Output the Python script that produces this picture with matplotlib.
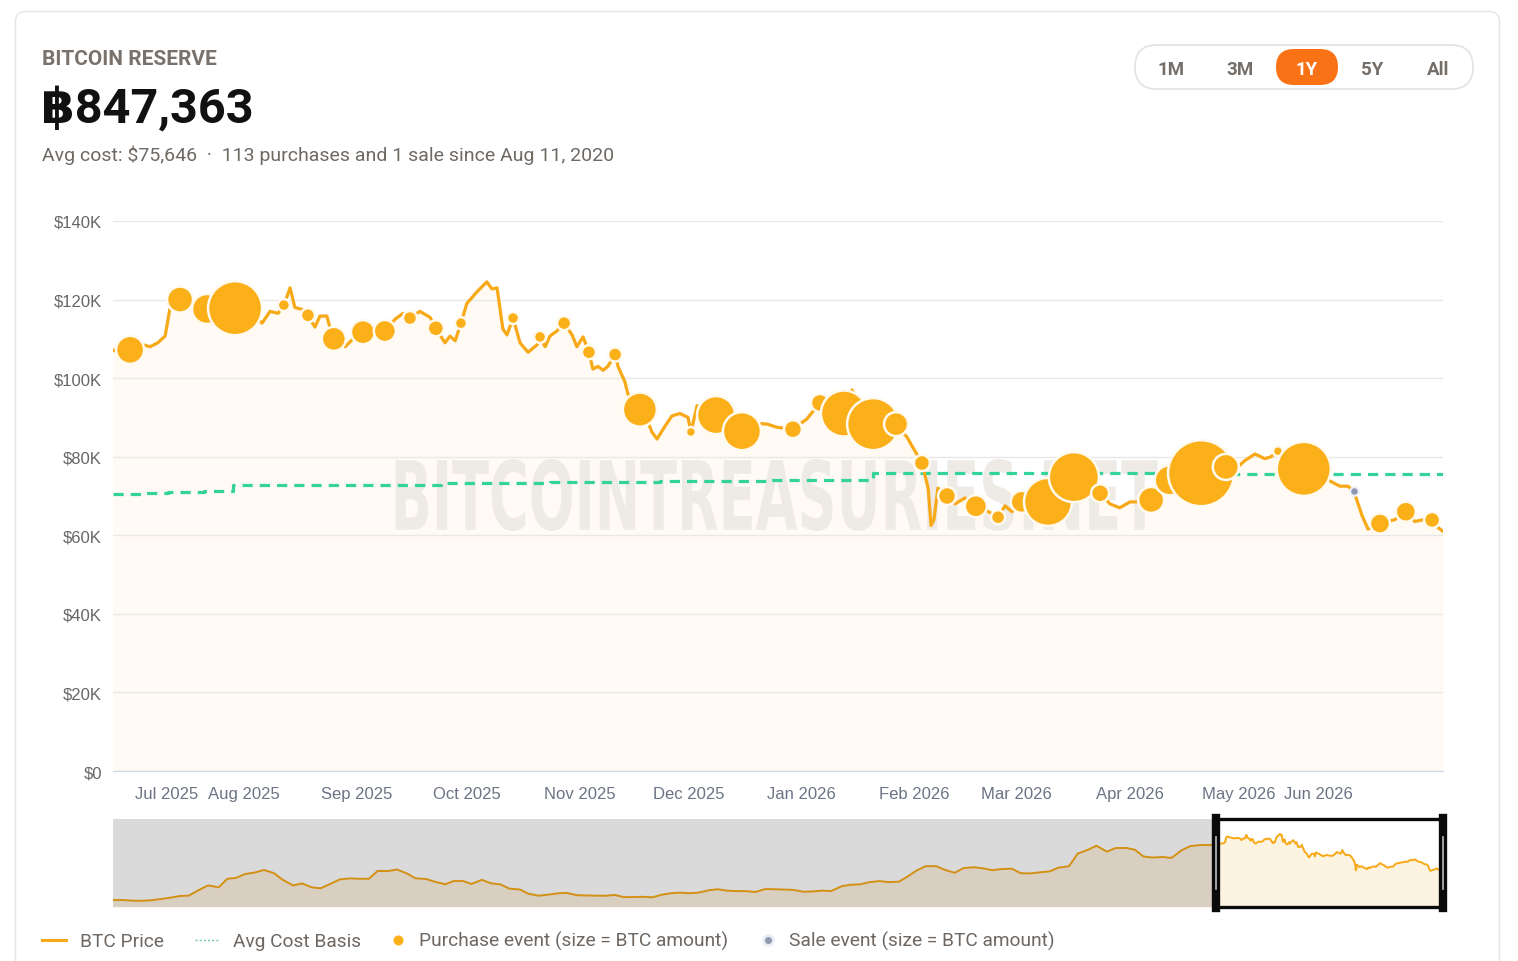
import numpy as np
import pandas as pd
import matplotlib
matplotlib.use('Agg')
import matplotlib.pyplot as plt
from matplotlib.patches import FancyBboxPatch, PathPatch
from matplotlib.textpath import TextPath
from matplotlib.font_manager import FontProperties
from matplotlib.transforms import Affine2D, ScaledTranslation
from matplotlib.ticker import FuncFormatter, MultipleLocator
import matplotlib.dates as mdates

plt.rcParams['font.family'] = ['Liberation Sans', 'DejaVu Sans']
UI_FONT = ['Roboto', 'DejaVu Sans']

# ---- data ----
start = '2025-06-26'          # first day of the 1Y window
window_days = 365

# BTC price in the 1Y window, days since start / $K
price_day = [0, 1.9, 4.7, 8.2, 10.2, 12.3, 14.3, 15.6, 17.0, 18.4, 22.5, 25.8, 29.4, 33.5, 37.6,
             40.9, 43.1, 45.3, 46.9, 48.6, 49.9, 51.9, 53.5, 55.4, 56.8, 58.7, 59.5, 60.6, 63.7,
             65.9, 68.6, 71.6, 74.6, 77.4, 79.6, 81.5, 84.2, 87.0, 88.6, 91.1, 92.5, 93.9, 95.5,
             97.1, 99.9, 102.6, 104.0, 105.4, 107.0, 108.1, 109.8, 111.7, 113.9, 116.4, 117.2,
             118.6, 119.9, 121.8, 123.8, 126.0, 127.3, 129.0, 130.6, 131.7, 133.1, 134.5, 135.8,
             137.8, 138.6, 140.5, 141.3, 143.0, 144.6, 146.3, 147.9, 149.3, 151.5, 153.4, 155.6,
             157.8, 158.6, 160.3, 162.7, 165.5, 169.0, 172.6, 176.2, 179.5, 182.2, 186.6, 190.4,
             194.0, 197.3, 200.6, 202.8, 205.5, 208.6, 211.9, 214.9, 217.9, 219.3, 222.0, 223.7,
             224.5, 225.3, 226.4, 228.9, 231.1, 233.8, 236.8, 239.3, 242.9, 244.8, 246.7, 248.9,
             252.7, 256.6, 260.2, 263.7, 267.3, 270.9, 273.6, 276.3, 279.1, 282.1, 284.9, 287.3,
             289.5, 294.2, 298.6, 302.1, 305.4, 308.2, 310.6, 313.4, 316.1, 317.8, 319.7, 323.3,
             326.8, 330.7, 334.0, 336.7, 338.9, 340.5, 341.7, 342.8, 344.4, 346.0, 347.7, 349.9,
             351.8, 354.8, 357.3, 359.8, 362.0, 363.6, 365.0]
price_k = [107.2, 106.5, 107.2, 108.5, 108.0, 109.0, 110.7, 117.6, 119.5, 120.0, 118.5, 117.6, 117.0,
           117.8, 117.0, 114.0, 117.0, 116.5, 118.6, 123.0, 118.0, 117.5, 116.0, 113.0, 115.8, 115.8,
           113.0, 110.0, 108.0, 110.0, 111.7, 111.0, 112.0, 115.0, 116.5, 115.3, 117.0, 115.5, 112.7,
           109.0, 110.7, 109.5, 114.0, 119.0, 122.0, 124.5, 122.7, 123.0, 112.5, 111.0, 115.3, 109.0,
           106.6, 108.5, 110.5, 108.0, 110.7, 112.0, 114.0, 111.0, 108.0, 110.5, 106.6, 102.3, 103.0,
           102.0, 103.0, 106.0, 103.0, 99.0, 96.0, 93.5, 92.0, 90.0, 86.3, 84.5, 87.8, 90.4, 91.0,
           90.0, 86.3, 93.0, 91.5, 90.6, 88.0, 86.5, 88.5, 88.3, 87.5, 87.0, 89.6, 93.7, 92.0, 91.0,
           97.0, 92.0, 88.3, 89.0, 88.3, 85.0, 82.7, 78.4, 72.0, 62.5, 64.0, 72.0, 70.0, 68.0, 69.5,
           67.4, 66.5, 64.6, 67.5, 66.0, 68.0, 69.0, 68.5, 71.5, 74.8, 72.5, 70.7, 68.0, 67.0, 68.5,
           68.5, 69.0, 72.0, 74.0, 75.0, 75.8, 76.5, 77.4, 77.0, 79.0, 80.7, 79.5, 80.0, 81.4, 78.5,
           76.9, 76.0, 73.8, 72.5, 72.5, 71.3, 68.0, 65.0, 61.6, 62.0, 63.0, 63.5, 64.0, 66.0, 63.5,
           64.0, 63.9, 62.0, 61.0]

# average cost basis (step line), days since start / $K
avg_day = [0, 8, 15, 25, 33, 60, 90, 120, 150, 180, 208.6, 250, 300, 365]
avg_k = [70.6, 70.8, 71.0, 71.3, 72.7, 72.9, 73.2, 73.5, 73.8, 74.1, 75.9, 75.9, 75.7, 75.6]

# purchase events: day, price $K, BTC bought
buy_day = [4.7, 18.4, 25.8, 33.5, 46.9, 53.5, 60.6, 68.6, 74.6, 81.5, 88.6, 95.5, 109.8, 117.2,
           123.8, 130.6, 137.8, 144.6, 158.6, 165.5, 172.6, 186.6, 194.0, 200.6, 208.6, 214.9,
           222.0, 228.9, 236.8, 242.9, 249.4, 256.6, 263.7, 270.9, 284.9, 290.0, 298.6, 305.4,
           319.7, 326.8, 347.7, 354.8, 362.0]
buy_k = [107.2, 120.0, 117.6, 117.8, 118.6, 116.0, 110.0, 111.7, 112.0, 115.3, 112.7, 114.0, 115.3,
         110.5, 114.0, 106.6, 106.0, 92.0, 86.3, 90.6, 86.5, 87.0, 93.7, 91.0, 88.3, 88.3, 78.4,
         70.0, 67.4, 64.6, 68.5, 68.5, 74.8, 70.7, 69.0, 74.0, 75.8, 77.4, 81.4, 76.9, 63.0, 66.0,
         63.9]
buy_btc = [3780, 3260, 4340, 14070, 700, 950, 2780, 2780, 2340, 950, 1240, 700, 700, 700, 950, 950,
           950, 5580, 480, 6970, 6970, 1560, 1560, 10210, 13050, 2780, 1240, 1560, 2340, 950, 2340,
           11120, 12060, 1560, 3260, 4340, 21020, 3260, 480, 14070, 1930, 1930, 1240]

# sale event
sale_day = [340.5]
sale_k = [71.3]
sale_btc = [360]

# navigator history before the window, 1st and 15th of each month, $K
hist_first = '2020-08-15'
hist_last = '2025-06-15'
hist_k = [11.8, 11.9, 10.8, 10.6, 11.5, 13.7, 15.9, 18.8, 19.3,
          29.4, 36.8, 33.5, 48.0, 49.6, 56.0, 58.9, 63.1, 57.8, 46.5, 36.7, 40.2,
          33.5, 31.8, 39.9, 47.0, 48.8, 48.1, 48.2, 61.5, 61.3, 63.9, 57.2, 48.9,
          47.7, 43.1, 38.7, 44.5, 44.4, 39.3, 46.3, 40.5, 38.5, 31.3, 29.8, 22.5,
          19.3, 20.8, 23.3, 24.1, 20.1, 19.7, 19.3, 19.1, 20.5, 16.9, 17.0, 17.4,
          16.6, 20.9, 23.7, 24.3, 23.6, 24.4, 28.5, 30.3, 27.8, 27.2, 27.0, 25.6,
          30.6, 30.3, 29.7, 29.2, 25.9, 26.6, 27.9, 27.2, 35.4, 37.9, 38.7, 42.2,
          44.2, 42.5, 43.1, 51.8, 62.4, 69.5, 69.7, 63.4, 58.3, 66.2, 67.8, 66.0,
          62.7, 64.7, 65.3, 57.6, 57.3, 59.1, 60.8, 67.0, 69.5, 91.1, 97.3, 104.4,
          94.4, 100.5, 100.6, 97.6, 86.0, 84.3, 85.2, 83.7, 96.5, 103.7, 105.7, 105.5]

range_buttons = ['1M', '3M', '1Y', '5Y', 'All']
active_range = '1Y'

# ---- derived ----
t0 = pd.Timestamp(start)
t1 = t0 + pd.Timedelta(days=window_days)
p_dates = t0 + pd.to_timedelta(price_day, unit='D')
price = np.array(price_k) * 1000
a_dates = t0 + pd.to_timedelta(avg_day, unit='D')
avg = np.array(avg_k) * 1000
b_dates = t0 + pd.to_timedelta(buy_day, unit='D')
s_dates = t0 + pd.to_timedelta(sale_day, unit='D')
h_dates = pd.date_range(hist_first, hist_last, freq='SMS')
nav_dates = h_dates.append(p_dates)
nav_vals = np.concatenate([np.array(hist_k) * 1000, price])

BTC_TO_S = 0.1075   # marker area per BTC

W, H = 1518, 962
fig = plt.figure(figsize=(W / 100, H / 100), dpi=100)

# background layer in pixel coords (y down)
bg = fig.add_axes([0, 0, 1, 1], zorder=-1)
bg.set_xlim(0, W)
bg.set_ylim(H, 0)
bg.axis('off')
bg.add_patch(FancyBboxPatch((15.5, 12.5), 1484, 1000, boxstyle='round,pad=0,rounding_size=10',
                            fc='white', ec='#e4e4e4', lw=1))

bg.text(42, 65, 'BITCOIN RESERVE', fontsize=15, fontweight='bold', color='#79716b',
        family=UI_FONT, va='baseline')
bg.text(41, 123, '฿847,363', fontsize=35, fontweight='bold', color='#111111',
        family=UI_FONT, va='baseline')
bg.text(42, 161, 'Avg cost: $75,646  ·  113 purchases and 1 sale since Aug 11, 2020',
        fontsize=14, color='#6f6963', family=UI_FONT, va='baseline')

# range selector
bg.add_patch(FancyBboxPatch((1135, 46), 338, 44, boxstyle='round,pad=0,rounding_size=22',
                            fc='white', ec='#e2e2e2', lw=1.2))
bg.add_patch(FancyBboxPatch((1276, 50), 62, 36, boxstyle='round,pad=0,rounding_size=18',
                            fc='#f97316', ec='none'))
for lab, x in zip(range_buttons, [1171, 1240, 1307, 1372, 1438]):
    bg.text(x, 75, lab, fontsize=13.5, fontweight='bold', ha='center', va='baseline',
            family=UI_FONT, color='white' if lab == active_range else '#756e68')

# ---- main chart ----
ax = fig.add_axes([113 / W, 1 - 772 / H, 1330 / W, 550 / H])
ax.set_facecolor('none')
ax.fill_between(p_dates, price, 0, color='#fffaf3', lw=0, zorder=0.3)

# watermark squeezed into its box
tp = TextPath((0, 0), 'BITCOINTREASURIES.NET', size=1,
              prop=FontProperties(family='DejaVu Sans', weight='bold'))
bb = tp.get_extents()
x0, x1, y0, y1 = 0.2125, 0.7855, 0.4364, 0.5673
wm = Affine2D().translate(-bb.x0, -bb.y0).scale((x1 - x0) / bb.width, (y1 - y0) / bb.height) \
    .translate(x0, y0) + ax.transAxes
ax.add_patch(PathPatch(tp, transform=wm, fc='#eeeae5', ec='none', zorder=0.4))

ax.step(a_dates, avg, where='post', color='#34d399', lw=2.3, dashes=(3.2, 2.2), zorder=2.5)
ax.plot(p_dates, price, color='#f7a918', lw=2.3, zorder=3, solid_joinstyle='round')
ax.scatter(b_dates, np.array(buy_k) * 1000, s=np.array(buy_btc) * BTC_TO_S, c='#fbb01a',
           edgecolors='#fffaf0', linewidths=1.8, zorder=4)
ax.scatter(s_dates, np.array(sale_k) * 1000, s=np.array(sale_btc) * BTC_TO_S, c='#8e99b0',
           edgecolors='#eef1f7', linewidths=1.5, zorder=4)

ax.set_xlim(t0, t1)
ax.set_ylim(0, 140000)
ax.yaxis.set_major_locator(MultipleLocator(20000))
ax.yaxis.set_major_formatter(FuncFormatter(lambda v, p: '$0' if v == 0 else f'${v / 1000:.0f}K'))
ax.xaxis.set_major_locator(mdates.MonthLocator())
ax.xaxis.set_major_formatter(mdates.DateFormatter('%b %Y'))
ax.grid(axis='y', color='#e8e8e8', lw=1)
ax.set_axisbelow(True)
ax.tick_params(axis='y', length=0, pad=8, labelsize=12, labelcolor='#666666')
ax.tick_params(axis='x', length=0, pad=11, labelsize=12, labelcolor='#6b7384')
for s in ['top', 'right', 'left']:
    ax.spines[s].set_visible(False)
ax.spines['bottom'].set_color('#ccd6eb')
ax.spines['bottom'].set_zorder(5)

# first and last month labels are pushed inward as in the original
fig.canvas.draw()
xl = ax.get_xticklabels()
xl[0].set_transform(xl[0].get_transform() + ScaledTranslation(0.35, 0, fig.dpi_scale_trans))
xl[-1].set_transform(xl[-1].get_transform() + ScaledTranslation(-0.34, 0, fig.dpi_scale_trans))

# ---- navigator ----
nav = fig.add_axes([113 / W, 1 - 908 / H, 1330 / W, 88 / H])
nav.set_facecolor('white')
nav.fill_between(nav_dates, nav_vals, 0, color='#fdf3e1', lw=0)
nav.plot(nav_dates, nav_vals, color='#f7a918', lw=1.4)
nav.set_xlim(h_dates[0], t1)
nav.set_ylim(0, 150000)
nav.axvspan(h_dates[0], t0, color='black', alpha=0.145, lw=0, zorder=3)
nav.set_xticks([])
nav.set_yticks([])
for s in nav.spines.values():
    s.set_visible(False)
xa = nav.get_xaxis_transform()
for yy in (0.0, 1.0):
    nav.plot([t0, t1], [yy, yy], transform=xa, color='#0a0a0a', lw=2.4, clip_on=False, zorder=5)
for xx in (t0, t1):
    nav.plot([xx, xx], [-0.01, 1.01], transform=xa, color='#0a0a0a', lw=6, clip_on=False, zorder=6)
    nav.plot([xx, xx], [0.2, 0.8], transform=xa, color='#bdbdbd', lw=1.2, clip_on=False, zorder=7)

# ---- legend ----
ly = 947
lfs = 13.8
bg.plot([42, 66], [941, 941], color='#f7a918', lw=2.2)
bg.text(80, ly, 'BTC Price', fontsize=lfs, color='#6e6762', family=UI_FONT, va='baseline')
bg.plot([195, 218], [941, 941], color='#74c7a8', lw=1, ls=(0, (1.5, 1.5)))
bg.text(233, ly, 'Avg Cost Basis', fontsize=lfs, color='#6e6762', family=UI_FONT, va='baseline')
bg.scatter([398], [941], s=52, c='#fbb01a', lw=0)
bg.text(419, ly, 'Purchase event (size = BTC amount)', fontsize=lfs, color='#6e6762',
        family=UI_FONT, va='baseline')
bg.scatter([768], [941], s=50, c='#8e99b0', edgecolors='#e8ecf5', lw=2)
bg.text(789, ly, 'Sale event (size = BTC amount)', fontsize=lfs, color='#6e6762',
        family=UI_FONT, va='baseline')

fig.savefig('out.png', dpi=100, facecolor='white')
